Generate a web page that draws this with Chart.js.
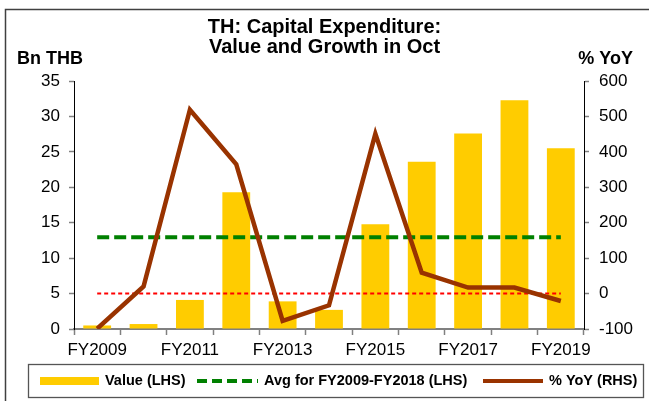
<!DOCTYPE html>
<html>
<head>
<meta charset="utf-8">
<script src="https://cdn.jsdelivr.net/npm/chart.js@4.4.1/dist/chart.umd.min.js"></script>
<style>
    html, body { margin: 0; padding: 0; background: #fff; }
</style>
</head>
<body>
<canvas id="canvas" width="649" height="401"></canvas>
<script>
// data
var years = ['FY2009', 'FY2010', 'FY2011', 'FY2012', 'FY2013', 'FY2014',
             'FY2015', 'FY2016', 'FY2017', 'FY2018', 'FY2019'];
var capexValue = [0.5, 0.7, 4.1, 19.3, 3.9, 2.7, 14.8, 23.6, 27.6, 32.3, 25.5];
var yoyGrowth = [-99, 20, 519, 365, -77, -33, 451, 59, 17, 17, -21];
var leftAxis = { min: 0, max: 35, step: 5 };
var rightAxis = { min: -100, max: 600, step: 100 };

// average of FY2009-FY2018 values
var avgPeriod = capexValue.slice(0, 10);
var avgValue = avgPeriod.reduce(function (a, b) { return a + b; }, 0) / avgPeriod.length;

var FONT = '"Liberation Sans", Arial, sans-serif';

var legendItems = [
    { text: 'Value (LHS)', x: 40, w: 59, color: '#FFCC00', width: 8, dash: [] },
    { text: 'Avg for FY2009-FY2018 (LHS)', x: 197, w: 61, color: '#008000', width: 4, dash: [10, 5] },
    { text: '% YoY (RHS)', x: 483, w: 60, color: '#993300', width: 4, dash: [] }
];

var extras = {
    id: 'extras',
    beforeDraw: function (chart) {
        var ctx = chart.ctx;
        ctx.save();
        ctx.fillStyle = '#fff';
        ctx.fillRect(0, 0, chart.width, chart.height);
        ctx.restore();
    },
    afterDraw: function (chart) {
        var ctx = chart.ctx;
        ctx.save();
        // outer frame
        ctx.strokeStyle = '#404040';
        ctx.lineWidth = 1.5;
        ctx.beginPath();
        ctx.moveTo(5.5, chart.height);
        ctx.lineTo(5.5, 9.5);
        ctx.lineTo(chart.width, 9.5);
        ctx.stroke();

        // axis units
        ctx.fillStyle = '#000';
        ctx.font = 'bold 18px ' + FONT;
        ctx.textBaseline = 'middle';
        ctx.textAlign = 'left';
        ctx.fillText('Bn THB', 17, 59);
        ctx.textAlign = 'right';
        ctx.fillText('% YoY', 633, 59);

        // legend box
        ctx.strokeStyle = '#555';
        ctx.lineWidth = 1.3;
        ctx.strokeRect(28.5, 364.5, 615, 33);
        var cy = 381;
        ctx.font = 'bold 14.5px ' + FONT;
        ctx.textAlign = 'left';
        legendItems.forEach(function (it) {
            ctx.strokeStyle = it.color;
            ctx.lineWidth = it.width;
            ctx.setLineDash(it.dash);
            ctx.beginPath();
            ctx.moveTo(it.x, cy);
            ctx.lineTo(it.x + it.w, cy);
            ctx.stroke();
            ctx.setLineDash([]);
            ctx.fillStyle = '#000';
            ctx.fillText(it.text, it.x + it.w + 6, cy);
        });
        ctx.restore();
    }
};

var ctx = document.getElementById('canvas').getContext('2d');

var myChart = new Chart(ctx, {
    type: 'bar',
    data: {
        labels: years,
        datasets: [
            {
                type: 'line',
                label: '% YoY (RHS)',
                data: yoyGrowth,
                yAxisID: 'y1',
                borderColor: '#993300',
                borderWidth: 4.5,
                pointRadius: 0,
                tension: 0,
                order: 0
            },
            {
                type: 'line',
                label: 'Avg for FY2009-FY2018 (LHS)',
                data: years.map(function () { return avgValue; }),
                yAxisID: 'y',
                borderColor: '#008000',
                borderWidth: 4,
                borderDash: [12, 5],
                pointRadius: 0,
                order: 1
            },
            {
                type: 'line',
                label: 'zero',
                data: years.map(function () { return 0; }),
                yAxisID: 'y1',
                borderColor: '#FF0000',
                borderWidth: 2,
                borderDash: [4, 3],
                pointRadius: 0,
                order: 2
            },
            {
                type: 'bar',
                label: 'Value (LHS)',
                data: capexValue,
                yAxisID: 'y',
                backgroundColor: '#FFCC00',
                barPercentage: 0.6,
                categoryPercentage: 1,
                order: 3
            }
        ]
    },
    options: {
        responsive: false,
        animation: false,
        layout: { padding: { left: 0, right: 0, top: 0, bottom: 42 } },
        plugins: {
            legend: { display: false },
            tooltip: { enabled: false },
            title: {
                display: true,
                text: ['TH: Capital Expenditure:', 'Value and Growth in Oct'],
                color: '#000',
                font: { family: FONT, size: 20, weight: 'bold', lineHeight: 1.0 },
                padding: { top: 17, bottom: 24 }
            }
        },
        scales: {
            x: {
                offset: true,
                grid: { offset: true, drawOnChartArea: false, tickLength: 6, color: '#808080', tickWidth: 1.5 },
                border: { color: '#808080', width: 2 },
                ticks: {
                    autoSkip: false,
                    maxRotation: 0,
                    color: '#000',
                    padding: 5,
                    font: { family: FONT, size: 17 },
                    callback: function (v, i) { return i % 2 === 0 ? this.getLabelForValue(v) : ''; }
                },
                afterFit: function (s) { s.height = 30; }
            },
            y: {
                position: 'left',
                min: leftAxis.min,
                max: leftAxis.max,
                grid: { drawOnChartArea: false, tickLength: 5, color: '#808080', tickWidth: 1.5 },
                border: { color: '#000', width: 1 },
                ticks: { stepSize: leftAxis.step, color: '#000', padding: 9, font: { family: FONT, size: 17 } },
                afterFit: function (s) { s.width = 74; }
            },
            y1: {
                position: 'right',
                min: rightAxis.min,
                max: rightAxis.max,
                grid: { drawOnChartArea: false, tickLength: 5, color: '#808080', tickWidth: 1.5 },
                border: { color: '#000', width: 1 },
                ticks: { stepSize: rightAxis.step, color: '#000', padding: 10, font: { family: FONT, size: 17 } },
                afterFit: function (s) { s.width = 65; }
            }
        }
    },
    plugins: [extras]
});
</script>
</body>
</html>
